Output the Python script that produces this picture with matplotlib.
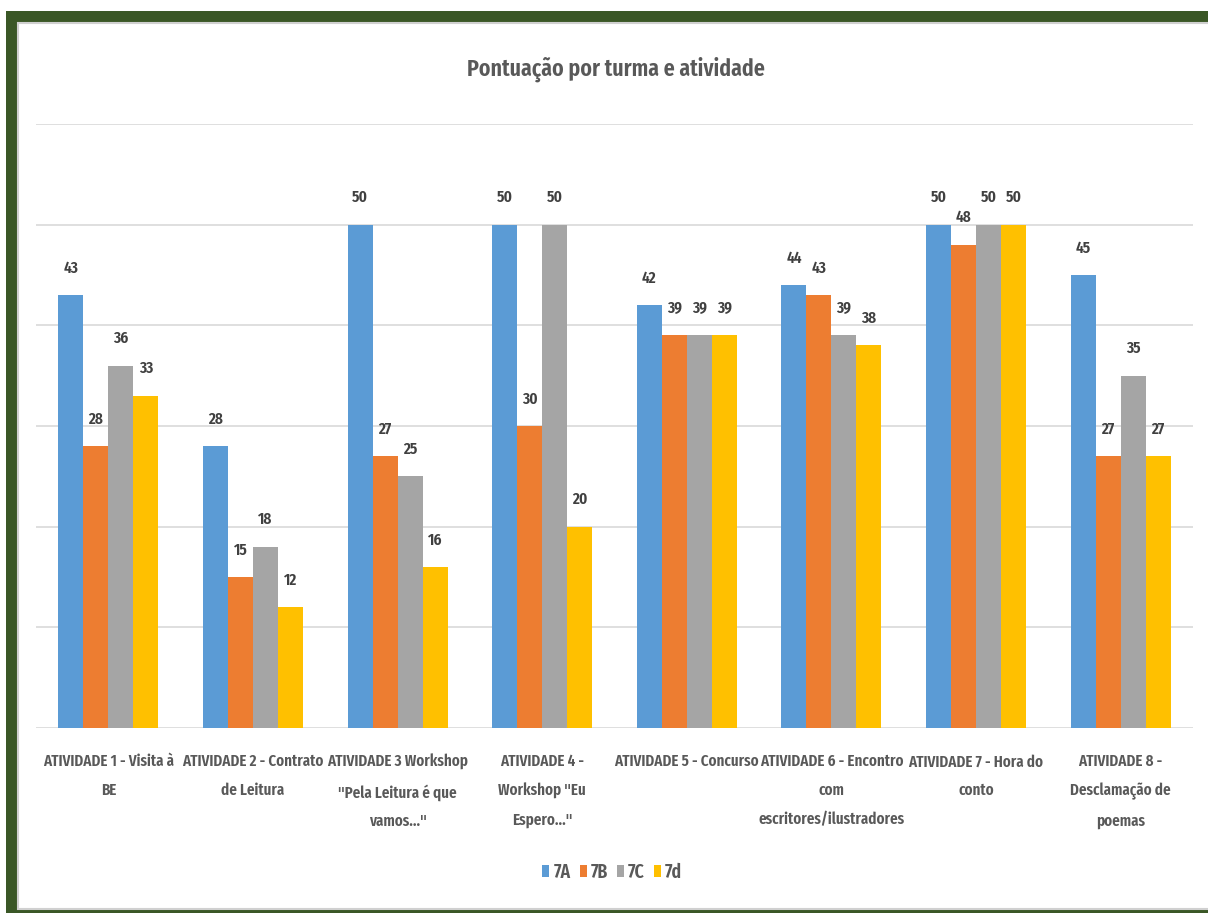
import matplotlib
matplotlib.use("Agg")
import matplotlib.pyplot as plt
from matplotlib.patches import Rectangle
from matplotlib import font_manager
from matplotlib.font_manager import FontProperties
import numpy as np

categories = [
    "ATIVIDADE 1 - Visita à\nBE",
    "ATIVIDADE 2 - Contrato\nde Leitura",
    "ATIVIDADE 3 Workshop\n\"Pela Leitura é que\nvamos...\"",
    "ATIVIDADE 4 -\nWorkshop \"Eu\nEspero...\"",
    "ATIVIDADE 5 - Concurso",
    "ATIVIDADE 6 - Encontro\ncom\nescritores/ilustradores",
    "ATIVIDADE 7 - Hora do\nconto",
    "ATIVIDADE 8 -\nDesclamação de\npoemas",
]
series_names = ["7A", "7B", "7C", "7d"]
v_7A = [43, 28, 50, 50, 42, 44, 50, 45]
v_7B = [28, 15, 27, 30, 39, 43, 48, 27]
v_7C = [36, 18, 25, 50, 39, 39, 50, 35]
v_7d = [33, 12, 16, 20, 39, 38, 50, 27]
series_values = [v_7A, v_7B, v_7C, v_7d]
colors = ["#5b9bd5", "#ed7d31", "#a5a5a5", "#ffc000"]
title = "Pontuação por turma e atividade"

names = {f.name for f in font_manager.fontManager.ttflist}
fam = "Carlito"
for cand in ["Fira Sans Extra Condensed", "Roboto Condensed", "Sofia Sans Extra Condensed",
             "Barlow Condensed", "PT Sans Narrow", "Archivo Narrow", "Carlito"]:
    if cand in names:
        fam = cand
        break
families = [fam, "DejaVu Sans"]
plt.rcParams["font.family"] = families
txt = "#595959"
W, H = 1208, 913
DPI = 100
fig = plt.figure(figsize=(W / DPI, H / DPI), dpi=DPI)
fig.patch.set_facecolor("white")
renderer = fig.canvas.get_renderer()


def fit_size(s, target_px, weight="normal"):
    fp = FontProperties(family=families, size=10, weight=weight)
    w, h, d = renderer.get_text_width_height_descent(s, fp, ismath=False)
    return 10 * target_px / w


WT = "semibold"
fs_lab = fit_size("ATIVIDADE 1 - Visita à", 132, WT)
fs_title = fit_size(title, 297, WT)
fs_val = fit_size("43", 15, WT)
fs_leg = fit_size("7A", 17, WT)

# line spacing to hit ~29 px between lines
fp_l = FontProperties(family=families, size=fs_lab, weight=WT)
_, lp_h, lp_d = renderer.get_text_width_height_descent("lp", fp_l, ismath=False)
ls = 29 / (lp_h - lp_d) * 0.88

# frame
fig.patches.append(Rectangle((6 / W, 0), 1, (H - 11) / H, transform=fig.transFigure,
                             facecolor="#3a5726", edgecolor="none", zorder=-3))
fig.patches.append(Rectangle((18 / W, (H - 909) / H), 1, (909 - 23) / H, transform=fig.transFigure,
                             facecolor="white", edgecolor="#d0d0d0", linewidth=1.5, zorder=-2))

ax = fig.add_axes([36 / W, (H - 728) / H, (1193 - 36) / W, (728 - 124) / H])
ax.set_facecolor("none")
x = np.arange(len(categories))
bw = 25 / ((1193 - 36) / len(categories))
for i, (name, vals, c) in enumerate(zip(series_names, series_values, colors)):
    pos = x + (i - 1.5) * bw
    ax.bar(pos, vals, width=bw, color=c, label=name, zorder=2)
    for p, v in zip(pos, vals):
        ax.annotate(str(v), (p, v), xytext=(0, 27 * 72 / DPI), textcoords="offset points",
                    ha="center", va="center", fontsize=fs_val, fontweight=WT, color="#404040")

ax.set_xlim(-0.5, len(categories) - 0.5)
ax.set_ylim(0, 60)
ax.set_yticks(range(0, 61, 10))
ax.yaxis.grid(True, color="#d9d9d9", linewidth=1.2, zorder=0)
ax.tick_params(axis="y", left=False, labelleft=False)
ax.tick_params(axis="x", bottom=False, pad=21 * 72 / DPI)
ax.set_xticks(x)
ax.set_xticklabels(categories, fontsize=fs_lab, color=txt, fontweight=WT, linespacing=ls)
for s in ax.spines.values():
    s.set_visible(False)

fig.text(616 / W, 1 - 69 / H, title, ha="center", va="center", fontsize=fs_title,
         fontweight=WT, color=txt)

lp = fs_leg * DPI / 72
leg = fig.legend(loc="center", bbox_to_anchor=(612 / W, 1 - 872 / H), ncol=4, frameon=False,
                 handlelength=7 / lp, handleheight=12 / lp, handletextpad=4 / lp,
                 columnspacing=9 / lp, borderpad=0,
                 prop={"size": fs_leg, "weight": WT, "family": families})
for t in leg.get_texts():
    t.set_color(txt)

fig.savefig("out.png", dpi=DPI)
